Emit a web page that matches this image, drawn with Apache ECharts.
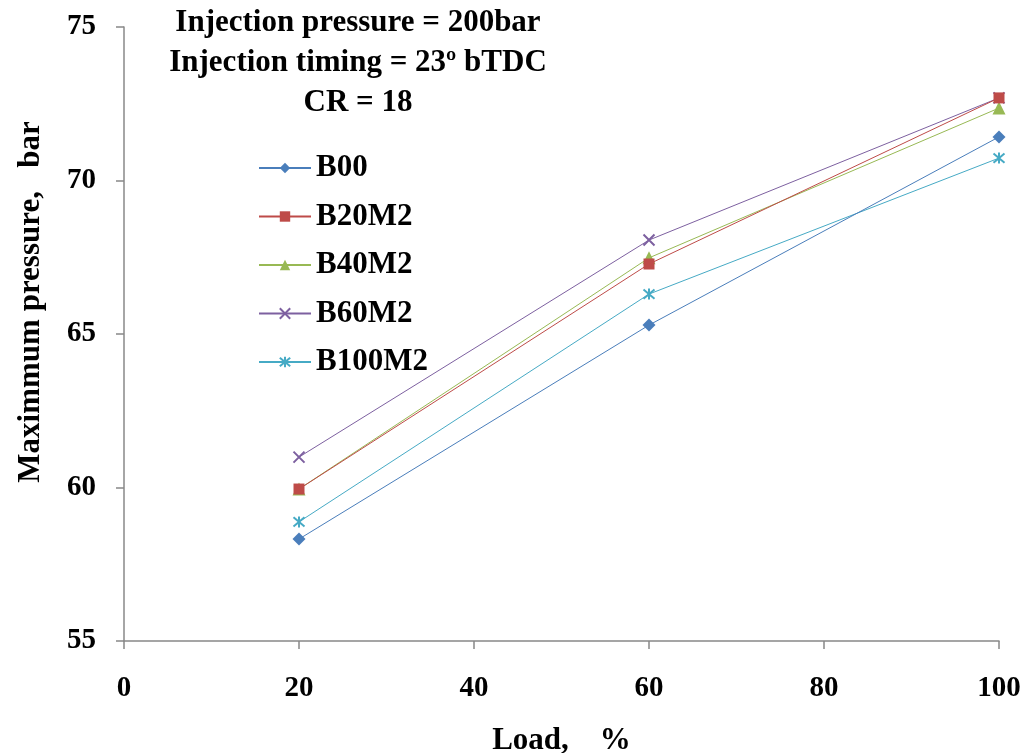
<!DOCTYPE html>
<html>
<head>
<meta charset="utf-8">
<script src="https://cdn.jsdelivr.net/npm/echarts@6/dist/echarts.min.js"></script>
<style>html,body{margin:0;padding:0;background:#fff;}#c{width:1025px;height:753px;}</style>
</head>
<body>
<div id="c"></div>
<script>
const loads = [20, 60, 100];
const seriesNames = ['B00', 'B20M2', 'B40M2', 'B60M2', 'B100M2'];
const B00 = [58.32, 65.29, 71.42];
const B20M2 = [59.95, 67.28, 72.69];
const B40M2 = [59.95, 67.48, 72.36];
const B60M2 = [60.99, 68.06, 72.69];
const B100M2 = [58.88, 66.30, 70.73];
const titleLines = ['Injection pressure = 200bar', 'Injection timing = 23º bTDC', 'CR = 18'];

const colors = ['#4a7ebb', '#be4b48', '#98b954', '#7d60a0', '#46aac5'];
const values = [B00, B20M2, B40M2, B60M2, B100M2];
const xPath = 'path://M0,0L10,10M10,0L0,10';
const starPath = 'path://M0,0L10,10M10,0L0,10M5,-1L5,11';
const symbols = ['diamond', 'rect', 'triangle', xPath, starPath];
const sizes = [13, 11, 13, 11, 11];
const font = '"Liberation Serif", "Times New Roman", serif';

const series = seriesNames.map((n, i) => {
  const stroked = i >= 3;
  return {
    name: n,
    type: 'line',
    data: loads.map((x, j) => [x, values[i][j]]),
    symbol: symbols[i],
    symbolSize: sizes[i],
    showSymbol: true,
    lineStyle: { color: colors[i], width: 1 },
    itemStyle: stroked
      ? { color: 'rgba(0,0,0,0)', borderColor: colors[i], borderWidth: 2 }
      : { color: colors[i], borderWidth: 0 },
    emphasis: { disabled: true },
    z: 10 - i
  };
});

const chart = echarts.init(document.getElementById('c'));
chart.setOption({
  animation: false,
  backgroundColor: '#fff',
  grid: { left: 124, right: 26, top: 27, bottom: 112, containLabel: false, outerBoundsMode: 'none' },
  xAxis: {
    type: 'value', min: 0, max: 100, interval: 20,
    name: 'Load,    %', nameLocation: 'middle', nameGap: 84,
    nameTextStyle: { fontFamily: font, fontWeight: 'bold', fontSize: 31, color: '#000' },
    axisLine: { show: true, lineStyle: { color: '#888', width: 1.5 } },
    axisTick: { show: true, length: 8, lineStyle: { color: '#888', width: 1.5 } },
    axisLabel: { fontFamily: font, fontWeight: 'bold', fontSize: 29, color: '#000', margin: 33 },
    splitLine: { show: false }
  },
  yAxis: {
    type: 'value', min: 55, max: 75, interval: 5,
    name: 'Maximmum pressure,   bar', nameLocation: 'middle', nameGap: 78,
    nameTextStyle: { fontFamily: font, fontWeight: 'bold', fontSize: 31, color: '#000', padding: [0, 0, 0, 64] },
    axisLine: { show: true, lineStyle: { color: '#888', width: 1.5 } },
    axisTick: { show: true, length: 8, lineStyle: { color: '#888', width: 1.5 } },
    axisLabel: { fontFamily: font, fontWeight: 'bold', fontSize: 29, color: '#000', margin: 28 },
    splitLine: { show: false }
  },
  legend: {
    orient: 'vertical', left: 253, top: 147,
    itemWidth: 52, itemHeight: 13, itemGap: 16.5,
    data: seriesNames,
    textStyle: { fontFamily: font, fontWeight: 'bold', fontSize: 31, lineHeight: 32, color: '#000' }
  },
  graphic: [{
    type: 'text', left: 358 - 200, top: 3,
    style: {
      text: titleLines.join('\n'),
      width: 400,
      align: 'center',
      textAlign: 'center',
      fontFamily: font, fontWeight: 'bold', fontSize: 31, lineHeight: 40, fill: '#000'
    }
  }],
  series: series
});
</script>
</body>
</html>
